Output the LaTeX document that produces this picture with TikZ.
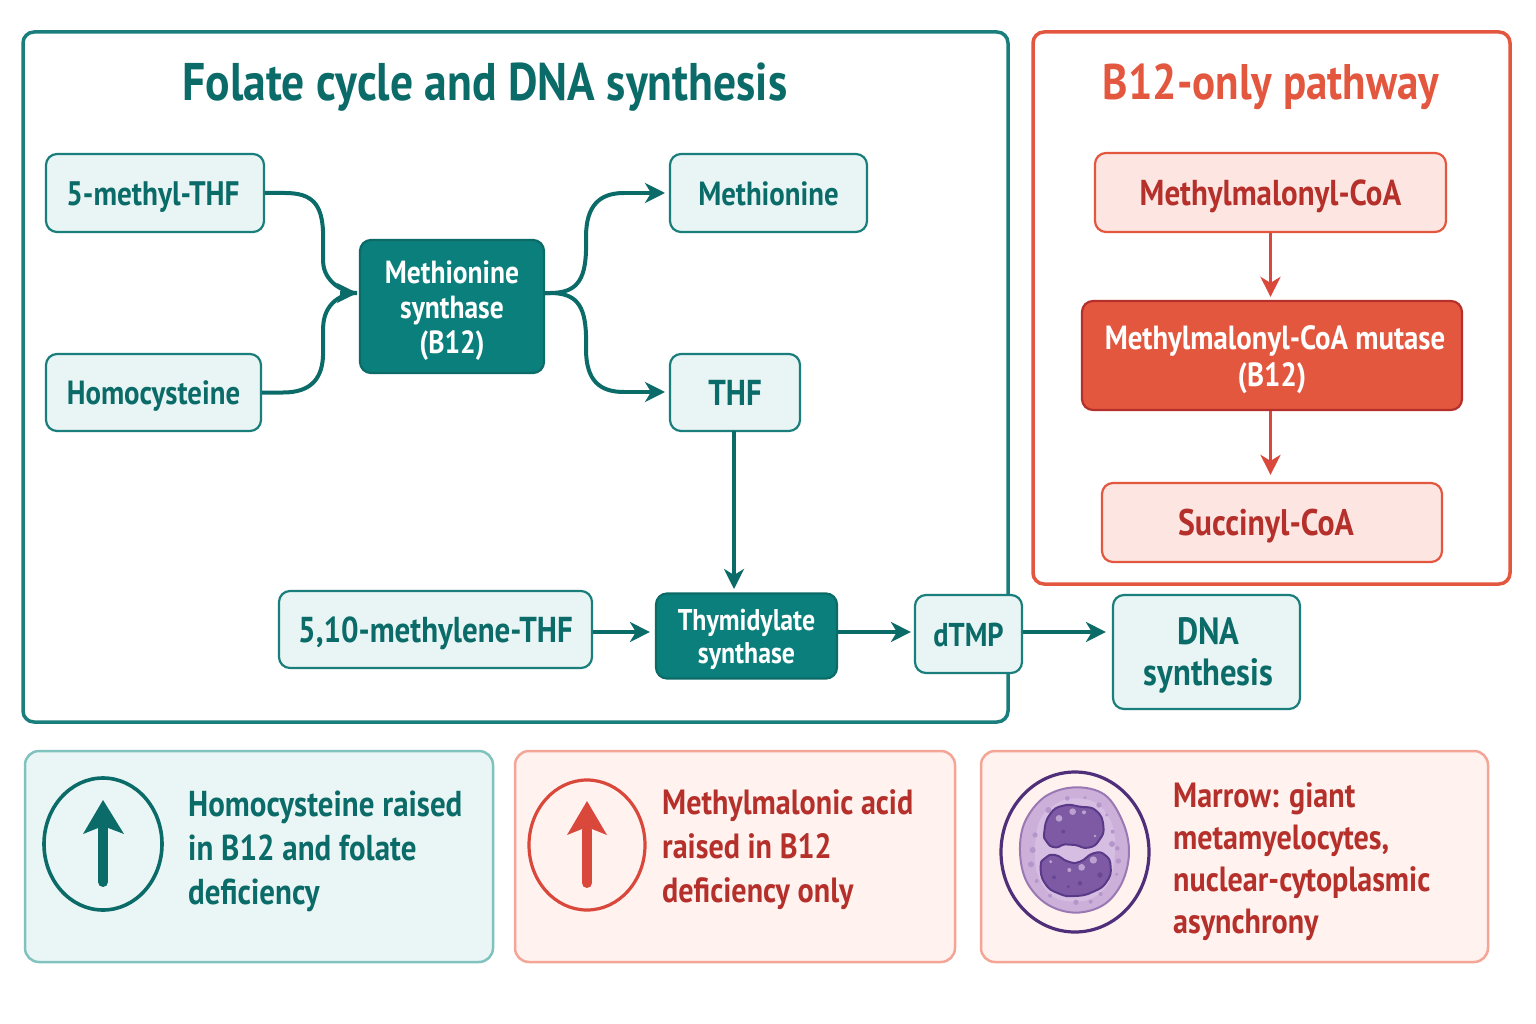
\documentclass[tikz,border=0pt]{standalone}
\usepackage{fontspec}
\setmainfont{PT Sans}[FakeStretch=0.86]
\usetikzlibrary{arrows.meta,calc}
\definecolor{tealdark}{HTML}{0B6B68}
\definecolor{tealline}{HTML}{1A7F7C}
\definecolor{tealfill}{HTML}{E8F5F4}
\definecolor{tealsolid}{HTML}{0B7F7B}
\definecolor{redline}{HTML}{E4573F}
\definecolor{redarrow}{HTML}{D9483A}
\definecolor{redfill}{HTML}{FDE6E2}
\definecolor{redtext}{HTML}{B5302A}
\definecolor{redsolid}{HTML}{E4573F}
\definecolor{softteal}{HTML}{EAF6F5}
\definecolor{softtealline}{HTML}{7FC2BE}
\definecolor{softred}{HTML}{FFF2EF}
\definecolor{softredline}{HTML}{F4A596}
\definecolor{ringpurple}{HTML}{4F2F7A}
\definecolor{cellout}{HTML}{CDB0DA}
\definecolor{cellin}{HTML}{D6BEE2}
\definecolor{cellline}{HTML}{9A78B4}
\definecolor{nucfill}{HTML}{7E5AA5}
\definecolor{nucline}{HTML}{5A3A88}
% Centred box text: the block is set without height so that its capitals sit mid-box
\newcommand{\lab}[1]{\raisebox{-11pt}[0pt][0pt]{\begin{tabular}{@{}c@{}}#1\end{tabular}}}
\newcommand{\fs}[2]{\fontsize{#1}{#2}\selectfont\bfseries}
\tikzset{
  panel/.style={draw, line width=3.5pt, rounded corners=11pt, fill=white},
  softpanel/.style={draw, line width=2.5pt, rounded corners=14pt},
  tbox/.style={draw=tealline, fill=tealfill, line width=2.2pt, rounded corners=11pt, inner sep=0pt, text=tealdark},
  tsolid/.style={draw=tealdark, fill=tealsolid, line width=2.2pt, rounded corners=11pt, inner sep=0pt, text=white},
  rbox/.style={draw=redline, fill=redfill, line width=2.2pt, rounded corners=11pt, inner sep=0pt, text=redtext},
  rsolid/.style={draw=redtext, fill=redsolid, line width=2.2pt, rounded corners=11pt, inner sep=0pt, text=white},
  bodytext/.style={inner sep=0pt, anchor=west, align=left, font=\fs{35}{44}},
  headline/.style={inner sep=0pt},
  tarrow/.style={draw=tealdark, line width=4pt, -{Stealth[length=20pt,width=20pt,inset=6pt]}},
  tcurve/.style={draw=tealdark, line width=4pt},
  rarrow/.style={draw=redarrow, line width=3.8pt, -{Stealth[length=20pt,width=20pt,inset=6pt]}},
}
\begin{document}
\begin{tikzpicture}[x=1pt,y=-1pt]
\useasboundingbox (0,0) rectangle (1536,1024);
\fill[white] (0,0) rectangle (1536,1024);

% large panels
\path[panel,draw=tealline] (23,32) rectangle (1008,722);
\path[panel,draw=redline] (1033,32) rectangle (1510,584);
\node[headline,text=tealdark,font=\fs{53}{58}] (folatehead) at (485,87) {Folate cycle and DNA synthesis};
\node[headline,text=redline,font=\fs{50}{55}] (b12head) at (1271,87) {B12-only pathway};

% folate cycle boxes
\node[tbox,minimum width=218pt,minimum height=78pt,font=\fs{34}{38}] (mthf) at (155,193) {\lab{\hspace*{-4pt}5-methyl-THF}};
\node[tbox,minimum width=215pt,minimum height=77pt,font=\fs{33.5}{38}] (hcy) at (153.5,392.5) {\lab{Homocysteine}};
\node[tsolid,minimum width=184pt,minimum height=133pt,font=\fs{32}{35}] (ms) at (452,306.5) {\lab{Methionine\\synthase\\(B12)}};
\node[tbox,minimum width=197pt,minimum height=78pt,font=\fs{33.5}{38}] (met) at (768.5,193) {\lab{Methionine}};
\node[tbox,minimum width=130pt,minimum height=77pt,font=\fs{36}{40}] (thf) at (735,392.5) {\lab{THF}};
\node[tbox,minimum width=313pt,minimum height=77pt,font=\fs{36}{40}] (mthf2) at (435.5,629.5) {\lab{5,10-methylene-THF}};
\node[tsolid,minimum width=181pt,minimum height=85pt,font=\fs{30}{33}] (ts) at (746.5,636) {\lab{Thymidylate\\synthase}};
\node[tbox,minimum width=107pt,minimum height=78pt,font=\fs{33}{38}] (dtmp) at (968.5,634) {\lab{dTMP}};
\node[tbox,minimum width=187pt,minimum height=114pt,font=\fs{38}{41}] (dna) at (1206.5,652) {\lab{\hspace*{4pt}DNA\\\hspace*{4pt}synthesis}};

% B12 pathway boxes
\node[rbox,minimum width=351pt,minimum height=79pt,font=\fs{36}{40}] (mmc) at (1270.5,192.5) {\lab{Methylmalonyl-CoA}};
\node[rsolid,minimum width=380pt,minimum height=109pt,font=\fs{33.5}{37}] (mut) at (1272,355.5) {\lab{\hspace*{6pt}Methylmalonyl-CoA mutase\\(B12)}};
\node[rbox,minimum width=340pt,minimum height=79pt,font=\fs{37}{41}] (suc) at (1272,522.5) {\lab{\hspace*{-12pt}Succinyl-CoA}};

% connectors of the folate cycle
\coordinate (msin) at (357,293);
\coordinate (msout) at (544,293);
\coordinate (metin) at (665,193);
\coordinate (thfin) at (665,392);
\coordinate (thfout) at (734,431);
\coordinate (tsin) at (734,589);
\draw[tcurve] (mthf.east) -- ++(20,0) .. controls ++(28,0) and ++(-1,-28) .. ++(38,40)
  -- ++(0,28) .. controls ++(0,20) and ++(-14,0) .. (msin);
\draw[tcurve] (hcy.east) -- ++(21,0) .. controls ++(28,0) and ++(0,26) .. ++(40,-40)
  -- ++(0,-24) .. controls ++(0,-26) and ++(-14,0) .. (msin);
\draw[tarrow] (340,293) -- (msin);
\draw[tcurve] (msout) -- ++(6,0) .. controls ++(26,0) and ++(-1,30) .. ++(36,-42)
  -- ++(0,-14) .. controls ++(0,-32) and ++(-24,0) .. ++(38,-44);
\draw[tcurve] (msout) -- ++(6,0) .. controls ++(26,0) and ++(-1,-30) .. ++(36,42)
  -- ++(0,14) .. controls ++(0,32) and ++(-24,0) .. ++(38,43);
\draw[tarrow] (622,193) -- (metin);
\draw[tarrow] (622,392) -- (thfin);
\draw[tarrow] (thfout) -- (tsin);
\draw[tarrow] ($(mthf2.east)+(0,2.5)$) -- ($(ts.west)+(-5,-4)$);
\draw[tarrow] ($(ts.east)+(0,-4)$) -- ($(dtmp.west)+(-3,-2)$);
\draw[tarrow] ($(dtmp.east)+(0,-2)$) -- ($(dna.west)+(-6,-20)$);

% connectors of the B12 pathway
\draw[rarrow] (mmc.south) -- ($(mut.north)+(-1.5,-3)$);
\draw[rarrow] ($(mut.south)+(-1.5,0)$) -- ($(suc.north)+(-1.5,-7)$);

% summary panels
\path[softpanel,draw=softtealline,fill=softteal] (25,751) rectangle (493,962);
\path[softpanel,draw=softredline,fill=softred] (515,751) rectangle (955,962);
\path[softpanel,draw=softredline,fill=softred] (981,751) rectangle (1488,962);

% raised-level markers
\draw[tealdark,line width=3.6pt] (103,844) ellipse [x radius=59, y radius=66];
\draw[tealdark,line width=10pt,line cap=round] (103,882) -- (103,828);
\fill[tealdark] (103,800) -- (124,834) -- (103,826) -- (83,834) -- cycle;
\draw[redarrow,line width=3.2pt] (587,845) ellipse [x radius=58, y radius=65];
\draw[redarrow,line width=10pt,line cap=round] (587,883) -- (587,830);
\fill[redarrow] (587,801) -- (607,835) -- (587,827) -- (567,835) -- cycle;

% marrow cell: ring, cytoplasm, granules, two nuclear lobes
\draw[ringpurple,line width=3.2pt] (1075,852) ellipse [x radius=74, y radius=80];
\begin{scope}[shift={(980,750)},x=0.3333pt,y=-0.3333pt]
  \draw[cellline,line width=2pt,fill=cellout] plot[smooth cycle,tension=0.6] coordinates
    {(120,305) (135,215) (195,140) (285,112) (375,135) (430,220) (447,310) (425,400) (370,465) (285,488) (200,462) (140,395)};
  \fill[cellin] plot[smooth cycle,tension=0.6] coordinates
    {(165,300) (180,210) (230,160) (285,145) (350,160) (395,220) (405,300) (390,390) (345,440) (285,455) (220,440) (175,380)};
  \foreach \gx/\gy/\gr in {158/300/9,165/255/8,153/343/9,170/393/6,210/437/6,288/457/8,332/455/6,362/432/6,415/333/8,412/295/7,396/282/9,398/245/6,380/195/5,357/165/8,315/143/5,262/145/7,205/180/9,410/373/5}
    \fill[cellout!70!nucfill] (\gx,\gy) circle (\gr);
  \draw[nucline,line width=2pt,fill=nucfill] plot[smooth cycle,tension=0.9] coordinates
    {(193,245) (210,193) (250,167) (300,170) (348,182) (370,228) (358,270) (325,293) (285,285) (255,283) (225,292) (200,275)};
  \draw[nucline,line width=2pt,fill=nucfill] plot[smooth cycle,tension=0.9] coordinates
    {(182,350) (195,325) (225,315) (265,335) (300,335) (340,310) (375,315) (392,350) (380,395) (340,425) (285,438) (235,430) (195,400)};
  \foreach \gx/\gy/\gr in {278/185/10,237/205/10,312/187/6,340/330/11,305/352/10,268/360/6,212/335/5,345/258/4}
    \fill[cellin!70!nucfill] (\gx,\gy) circle (\gr);
  \foreach \gx/\gy/\gr in {360/375/8,222/382/6,300/400/7,265/410/5,250/245/6}
    \fill[nucline!60!nucfill] (\gx,\gy) circle (\gr);
\end{scope}

% summary texts
\node[bodytext,text=tealdark,font=\fs{36}{44}] (t1) at (188,851) {Homocysteine raised\\in B12 and folate\\deficiency};
\node[bodytext,text=redtext] (t2) at (662,850) {Methylmalonic acid\\raised in B12\\deficiency only};
\node[bodytext,text=redtext,font=\fs{35}{42}] (t3) at (1173,862) {Marrow: giant\\metamyelocytes,\\nuclear-cytoplasmic\\asynchrony};
\end{tikzpicture}
\end{document}
